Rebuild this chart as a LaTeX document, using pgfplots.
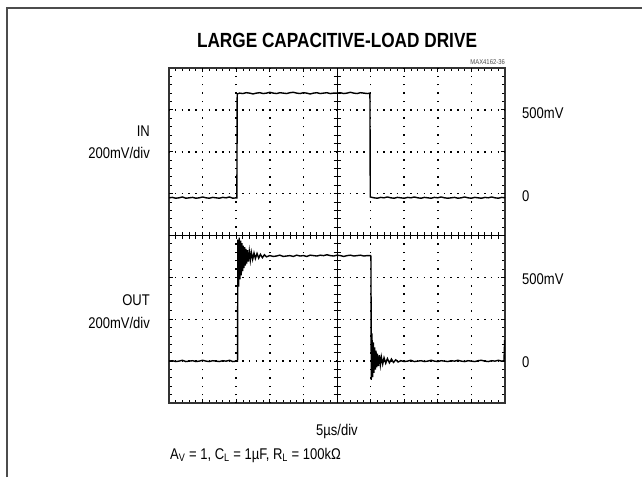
\documentclass[border=0pt]{standalone}
\usepackage{fontspec}
\setmainfont{Liberation Sans}[FakeStretch=0.84]
\usepackage{pgfplots}
\pgfplotsset{compat=1.18}
\begin{document}
\begin{tikzpicture}[x=1pt,y=1pt]
\useasboundingbox (0,0) rectangle (642,477);
\draw[line width=2pt, black!70] (7,0) -- (7,469) -- (642,469);
\begin{axis}[at={(169pt,74pt)}, anchor=south west, scale only axis,
  width=336pt, height=335pt, xmin=0, xmax=10, ymin=0, ymax=8,
  xtick={0,...,10}, ytick={0,...,8}, minor x tick num=4, minor y tick num=4,
  xticklabels={}, yticklabels={}, tick align=inside,
  major tick length=4pt, minor tick length=3pt,
  every tick/.style={black, line width=0.8pt},
  axis line style={black!80, line width=2.8pt}]
\pgfplotsinvokeforeach{1,2,3,4,6,7,8,9}{\draw[black, line width=1.5pt, dash pattern=on 1.5pt off 6.875pt, dash phase=0.75pt] (axis cs:#1,0) -- (axis cs:#1,8);}
\pgfplotsinvokeforeach{1,2,3,5,6,7}{\draw[black, line width=1.5pt, dash pattern=on 1.5pt off 5.22pt, dash phase=0.75pt] (axis cs:0,#1) -- (axis cs:10,#1);}
\draw[black, line width=1pt] (axis cs:5,0) -- (axis cs:5,8);
\draw[black, line width=1pt] (axis cs:0,4) -- (axis cs:10,4);
\pgfplotsinvokeforeach{0.2,0.4,...,9.8}{\draw[black, line width=0.9pt] (axis cs:#1,4) ++(0,-3.5pt) -- ++(0,7pt);}
\pgfplotsinvokeforeach{0.2,0.4,...,7.8}{\draw[black, line width=0.9pt] (axis cs:5,#1) ++(-3.5pt,0) -- ++(7pt,0);}
% IN trace
\addplot[black, line width=1.4pt] coordinates {
(0,4.90)(0.1,4.91)(0.2,4.89)(0.3,4.90)(0.4,4.92)(0.5,4.89)(0.6,4.90)(0.7,4.91)(0.8,4.89)(0.9,4.90)
(1.0,4.92)(1.1,4.90)(1.2,4.89)(1.3,4.91)(1.4,4.90)(1.5,4.89)(1.6,4.91)(1.7,4.90)(1.8,4.92)(1.9,4.89)
(2.0,4.90)(2.02,4.90)(2.03,7.38)(2.1,7.40)(2.2,7.39)(2.3,7.41)(2.4,7.40)(2.5,7.38)(2.6,7.40)(2.7,7.41)
(2.8,7.39)(2.9,7.40)(3.0,7.42)(3.1,7.40)(3.2,7.39)(3.3,7.41)(3.4,7.40)(3.5,7.39)(3.6,7.41)(3.7,7.42)
(3.8,7.40)(3.9,7.39)(4.0,7.41)(4.1,7.40)(4.2,7.38)(4.3,7.40)(4.4,7.41)(4.5,7.39)(4.6,7.40)(4.7,7.41)
(4.8,7.39)(4.9,7.40)(5.0,7.40)(5.1,7.41)(5.2,7.39)(5.3,7.40)(5.4,7.42)(5.5,7.40)(5.6,7.39)(5.7,7.41)
(5.8,7.40)(5.9,7.39)(5.98,7.40)(5.99,4.92)(6.1,4.90)(6.2,4.89)(6.3,4.91)(6.4,4.90)(6.5,4.92)(6.6,4.90)
(6.7,4.89)(6.8,4.91)(6.9,4.90)(7.0,4.89)(7.1,4.91)(7.2,4.90)(7.3,4.92)(7.4,4.90)(7.5,4.89)(7.6,4.91)
(7.7,4.90)(7.8,4.89)(7.9,4.91)(8.0,4.90)(8.1,4.92)(8.2,4.90)(8.3,4.89)(8.4,4.90)(8.5,4.91)(8.6,4.89)
(8.7,4.90)(8.8,4.92)(8.9,4.90)(9.0,4.89)(9.1,4.91)(9.2,4.90)(9.3,4.89)(9.4,4.91)(9.5,4.90)(9.6,4.92)
(9.7,4.90)(9.8,4.89)(9.9,4.91)(10,4.90)};
% OUT trace
\addplot[black, line width=1.4pt] coordinates {
(0,1.00)(0.1,1.01)(0.2,0.99)(0.3,1.00)(0.4,1.02)(0.5,0.99)(0.6,1.00)(0.7,1.01)(0.8,0.99)(0.9,1.00)
(1.0,1.02)(1.1,1.00)(1.2,0.99)(1.3,1.01)(1.4,1.00)(1.5,0.99)(1.6,1.01)(1.7,1.00)(1.8,1.02)(1.9,0.99)
(2.0,1.00)(2.04,1.00)(2.05,3.90)(2.07,2.78)(2.09,3.95)(2.11,2.95)(2.13,3.88)(2.15,3.05)(2.17,3.82)
(2.19,3.15)(2.21,3.76)(2.23,3.22)(2.25,3.72)(2.27,3.28)(2.29,3.68)(2.31,3.33)(2.33,3.65)(2.36,3.38)
(2.39,3.62)(2.42,3.41)(2.45,3.60)(2.49,3.43)(2.53,3.58)(2.57,3.45)(2.62,3.57)(2.67,3.46)(2.72,3.55)
(2.78,3.47)(2.84,3.54)(2.90,3.49)(3.0,3.52)(3.1,3.50)(3.2,3.51)(3.3,3.53)(3.4,3.50)(3.5,3.51)
(3.6,3.52)(3.7,3.50)(3.8,3.53)(3.9,3.51)(4.0,3.52)(4.1,3.50)(4.2,3.53)(4.3,3.52)(4.4,3.51)(4.5,3.53)
(4.6,3.52)(4.7,3.54)(4.8,3.52)(4.9,3.51)(5.0,3.53)(5.1,3.52)(5.2,3.50)(5.3,3.52)(5.4,3.53)(5.5,3.51)
(5.6,3.52)(5.7,3.53)(5.8,3.51)(5.9,3.52)(6.0,3.52)(6.01,3.50)(6.02,0.55)(6.04,1.66)(6.06,0.62)
(6.08,1.45)(6.10,0.72)(6.12,1.33)(6.14,0.80)(6.16,1.25)(6.18,0.85)(6.20,1.18)(6.23,0.88)(6.26,1.14)
(6.29,0.91)(6.32,1.10)(6.36,0.93)(6.40,1.08)(6.45,0.95)(6.50,1.06)(6.56,0.96)(6.62,1.05)(6.68,0.97)
(6.75,1.03)(6.82,0.98)(6.9,1.01)(7.0,0.99)(7.1,1.00)(7.2,1.02)(7.3,0.99)(7.4,1.00)(7.5,1.01)
(7.6,0.99)(7.7,1.00)(7.8,1.02)(7.9,1.00)(8.0,0.99)(8.1,1.01)(8.2,1.00)(8.3,0.99)(8.4,1.01)(8.5,1.00)
(8.6,1.02)(8.7,1.00)(8.8,0.99)(8.9,1.01)(9.0,1.00)(9.1,0.99)(9.2,1.01)(9.3,1.02)(9.4,1.00)(9.5,0.99)
(9.6,1.01)(9.7,1.00)(9.8,1.02)(9.9,1.00)(9.97,1.01)(9.99,1.50)};
\end{axis}
\node[font=\fontsize{20.5}{24}\selectfont\bfseries] at (337,437) {LARGE CAPACITIVE-LOAD DRIVE};
\node[font=\fontsize{7}{8}\selectfont, text=black!70, anchor=east, inner sep=0pt] at (505,415) {MAX4162-36};
\begin{scope}[every node/.style={font=\fontsize{15.5}{18}\selectfont, inner sep=0pt}]
\node[anchor=east] at (150,346) {IN};
\node[anchor=east] at (150,324) {200mV/div};
\node[anchor=east] at (150,177) {OUT};
\node[anchor=east] at (150,154) {200mV/div};
\node[anchor=west] at (522,364) {500mV};
\node[anchor=west] at (522,281) {0};
\node[anchor=west] at (522,198) {500mV};
\node[anchor=west] at (522,115) {0};
\node at (337,46) {5µs/div};
\node[anchor=west] at (170,22) {A\textsubscript{V} = 1, C\textsubscript{L} = 1µF, R\textsubscript{L} = 100kΩ};
\end{scope}
\end{tikzpicture}
\end{document}
